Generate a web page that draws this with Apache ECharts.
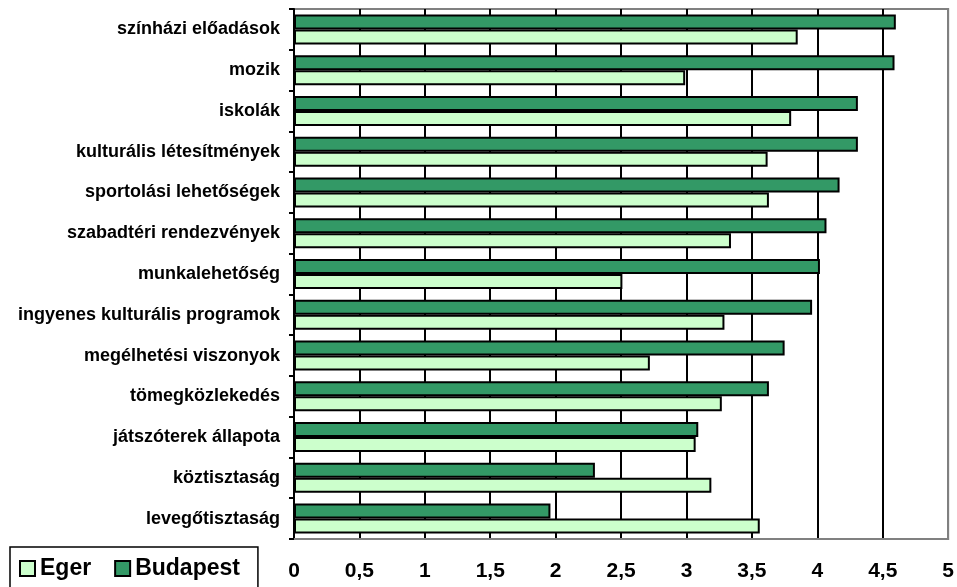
<!DOCTYPE html>
<html>
<head>
<meta charset="utf-8">
<script src="https://cdn.jsdelivr.net/npm/echarts@6/dist/echarts.min.js"></script>
<style>
  html, body { margin: 0; padding: 0; background: #fff; }
  #chart { width: 957px; height: 587px; }
</style>
</head>
<body>
<div id="chart"></div>
<script>
const categories = [
  'színházi előadások',
  'mozik',
  'iskolák',
  'kulturális létesítmények',
  'sportolási lehetőségek',
  'szabadtéri rendezvények',
  'munkalehetőség',
  'ingyenes kulturális programok',
  'megélhetési viszonyok',
  'tömegközlekedés',
  'játszóterek állapota',
  'köztisztaság',
  'levegőtisztaság',
]
const budapest = [4.6, 4.59, 4.31, 4.31, 4.17, 4.07, 4.02, 3.96, 3.75, 3.63, 3.09, 2.3, 1.96]
const eger = [3.85, 2.99, 3.8, 3.62, 3.63, 3.34, 2.51, 3.29, 2.72, 3.27, 3.07, 3.19, 3.56]

const chart = echarts.init(document.getElementById('chart'))

const font = 'Arial, "Liberation Sans", sans-serif'

// black grid lines, the one at 5 is the grey plot border
const gridColors = ['#000', '#000', '#000', '#000', '#000', '#000', '#000', '#000', '#000', '#000', '#808080']

chart.setOption({
  backgroundColor: '#fff',
  animation: false,
  textStyle: { fontFamily: font },
  grid: {
    left: 294,
    top: 9,
    width: 656,
    height: 530,
    show: true,
    borderColor: '#808080',
    borderWidth: 2,
    containLabel: false,
  },
  legend: {
    left: 10,
    top: 547,
    orient: 'horizontal',
    data: ['Eger', 'Budapest'],
    itemWidth: 15,
    itemHeight: 15,
    itemGap: 23,
    padding: [10, 18, 14, 9],
    borderColor: '#000',
    borderWidth: 1.5,
    icon: 'rect',
    textStyle: {
      fontFamily: font,
      fontWeight: 'bold',
      fontSize: 23,
      color: '#000',
    },
  },
  xAxis: {
    type: 'value',
    min: 0,
    max: 5,
    interval: 0.5,
    axisLine: { show: true, lineStyle: { color: '#808080', width: 2 } },
    axisTick: { show: false },
    splitLine: { show: true, lineStyle: { color: gridColors, width: 2 } },
    axisLabel: {
      margin: 22,
      fontFamily: font,
      fontWeight: 'bold',
      fontSize: 21,
      color: '#000',
      formatter: (v) => String(v).replace('.', ','),
    },
  },
  yAxis: {
    type: 'category',
    inverse: true,
    data: categories,
    axisLine: { show: true, lineStyle: { color: '#000', width: 2 } },
    axisTick: { show: true, length: 5, lineStyle: { color: '#000', width: 2 } },
    axisLabel: {
      margin: 14,
      fontFamily: font,
      fontWeight: 'bold',
      fontSize: 18,
      color: '#000',
    },
  },
  series: [
    {
      name: 'Budapest',
      type: 'bar',
      data: budapest,
      barWidth: 15,
      barGap: '0%',
      itemStyle: { color: '#339966', borderColor: '#000', borderWidth: 2 },
    },
    {
      name: 'Eger',
      type: 'bar',
      data: eger,
      barWidth: 15,
      barGap: '0%',
      itemStyle: { color: '#CCFFCC', borderColor: '#000', borderWidth: 2 },
    },
  ],
})
</script>
</body>
</html>
